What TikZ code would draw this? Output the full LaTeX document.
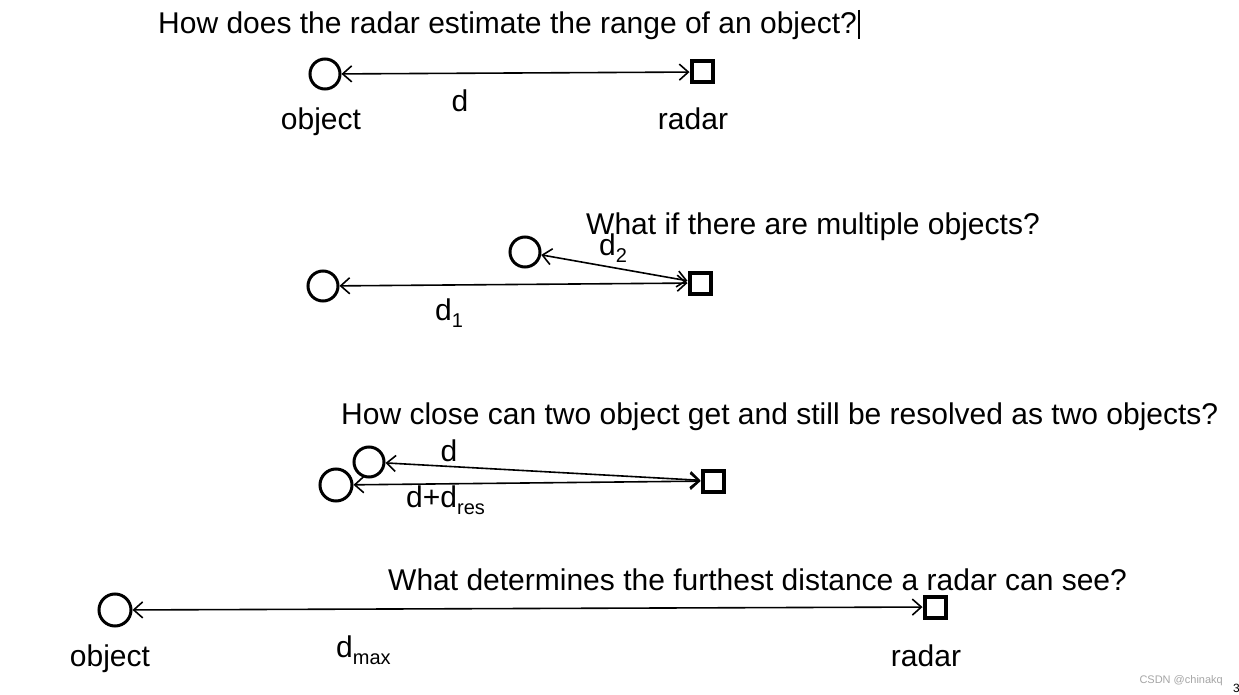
\documentclass[tikz,border=0pt]{standalone}
\usepackage{fontspec}
\setmainfont{Liberation Sans}
\usetikzlibrary{arrows.meta}
\newcommand{\bigtxt}{\fontsize{30}{34}\selectfont}
\newcommand{\subtxt}[1]{\raisebox{-7pt}{\fontsize{20}{22}\selectfont #1}}
\begin{document}
\begin{tikzpicture}[x=1pt,y=-1pt,
  objc/.style={circle,draw,line width=3pt,minimum size=30pt,inner sep=0pt},
  radarbox/.style={rectangle,draw,line width=4pt,minimum size=21pt,inner sep=0pt},
  lbl/.style={anchor=base,inner sep=0pt,font=\bigtxt},
  ttl/.style={anchor=base west,inner sep=0pt,font=\bigtxt},
  link/.style={line width=1.6pt,{Straight Barb[length=9pt,width=16pt,line width=1.6pt]}-{Straight Barb[length=9pt,width=16pt,line width=1.6pt]}}]
\useasboundingbox (0,0) rectangle (1239,695);
\fill[white] (0,0) rectangle (1239,695);

% Section 1
\node[ttl] (t1) at (158,34) {How does the radar estimate the range of an object?};
\draw[line width=1.2pt] (859,10) coordinate (cur1) -- (859,39) coordinate (cur2);
\node[objc] (o1) at (325,74) {};
\node[radarbox] (r1) at (702,72) {};
\draw[link] (o1) -- (r1);
\node[lbl] (d1lbl) at (460,112) {d};
\node[lbl] (obj1) at (321,130) {object};
\node[lbl] (rad1) at (693,130) {radar};

% Section 2
\node[ttl] (t2) at (586,234) {What if there are multiple objects?};
\node[objc] (o2a) at (525,252) {};
\node[objc] (o2b) at (323,286) {};
\node[radarbox] (r2) at (700,283) {};
\draw[link] (o2a) -- (r2);
\draw[link] (o2b) -- (r2);
\node[anchor=base west,inner sep=0pt,font=\bigtxt] (d2lbl) at (599,255) {d\subtxt{2}};
\node[anchor=base west,inner sep=0pt,font=\bigtxt] (d1sub) at (435,320) {d\subtxt{1}};

% Section 3
\node[ttl] (t3) at (341,424) {How close can two object get and still be resolved as two objects?};
\node[objc] (o3a) at (369,462) {};
\node[objc,minimum size=32pt] (o3b) at (336,485) {};
\node[radarbox] (r3) at (713,481) {};
\draw[link] (o3a) -- (r3);
\draw[link] (o3b) -- (r3);
\node[lbl] (d3lbl) at (449,461) {d};
\node[anchor=base west,inner sep=0pt,font=\bigtxt] (d3res) at (406,507) {d+d\subtxt{res}};

% Section 4
\node[ttl] (t4) at (388,590) {What determines the furthest distance a radar can see?};
\node[objc,minimum size=32pt] (o4) at (115,610) {};
\node[radarbox] (r4) at (935,607) {};
\draw[link] (o4) -- (r4);
\node[lbl] (obj4) at (110,666) {object};
\node[anchor=base west,inner sep=0pt,font=\bigtxt] (dmax) at (336,657) {d\subtxt{max}};
\node[lbl] (rad4) at (926,666) {radar};

% watermark
\node[anchor=base east,inner sep=0pt,text=black!35,font=\fontsize{11}{13}\selectfont] (wm) at (1223,683) {CSDN @chinakq};
\node[anchor=base west,inner sep=0pt,font=\fontsize{12}{14}\selectfont] (pg) at (1233,692) {3};
\end{tikzpicture}
\end{document}
